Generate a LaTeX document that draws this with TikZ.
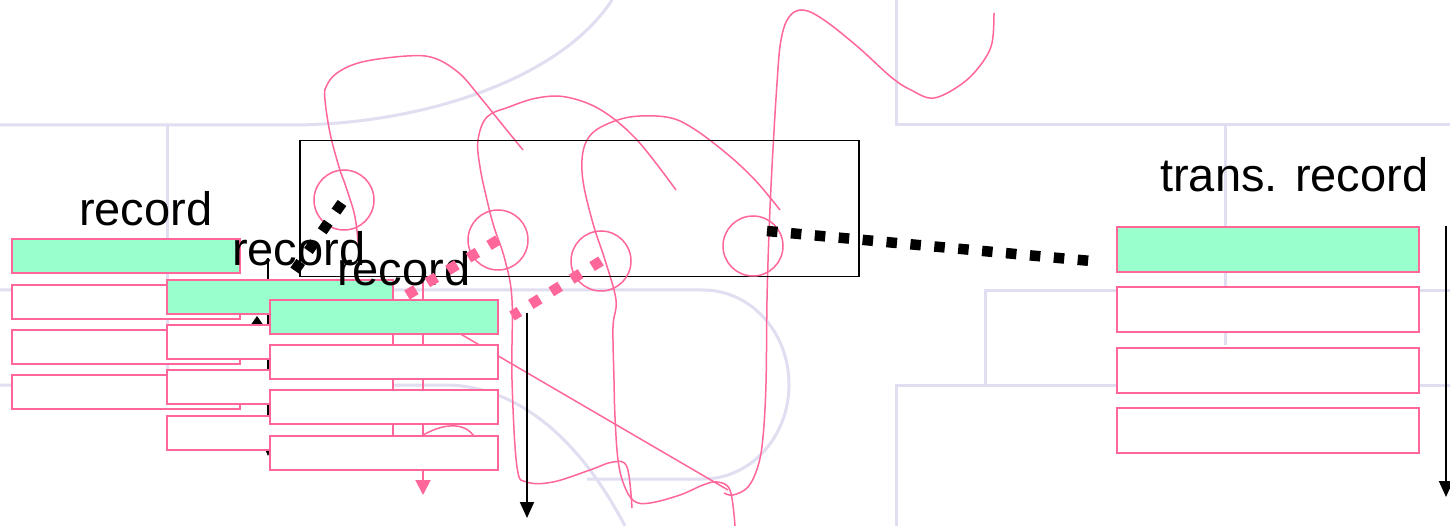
\documentclass[tikz,border=0pt]{standalone}
\usepackage{fontspec}
\setmainfont{Liberation Sans}
\usetikzlibrary{arrows.meta}
\definecolor{pinkline}{RGB}{255,102,153}
\definecolor{recgreen}{RGB}{153,255,204}
\definecolor{gridline}{RGB}{224,222,240}

\begin{document}
\begin{tikzpicture}[x=1pt,y=-1pt,
  backline/.style={draw=gridline, line width=3pt},
  scribble/.style={draw=pinkline, line width=1.5pt},
  ring/.style={circle, draw=pinkline, line width=1.5pt, minimum size=60pt, inner sep=0pt},
  window/.style={draw=black, line width=1.5pt, inner sep=0pt, anchor=north west},
  field/.style={draw=pinkline, line width=1.8pt, fill=white, inner sep=0pt,
                anchor=north west, minimum height=34pt},
  keyfield/.style={field, fill=recgreen},
  rectitle/.style={anchor=base west, inner sep=0pt, font=\fontsize{47}{56}\selectfont},
  flow/.style={draw=black, line width=2pt, -{Triangle[width=14pt,length=16pt]}},
  pinkflow/.style={draw=pinkline, line width=2pt, -{Triangle[width=15pt,length=15pt]}},
  chain/.style={line width=10.5pt, dash pattern=on 10.5pt off 13.5pt},
]
\fill[white] (0,0) rectangle (1450,526);
\useasboundingbox (0,0) rectangle (1450,526);

% ---- faint background ruling ----
\draw[backline] (0,125) -- (290,125) .. controls (420,125) and (560,80) .. (612,0);
\draw[backline] (167,125) -- (167,385);
\draw[backline] (0,290) -- (703,290)
  .. controls (750.5,290) and (789,332) .. (789,384.5)
  .. controls (789,437) and (750.5,479) .. (703,479) -- (587,479);
\draw[backline] (0,385) -- (450,385) .. controls (520,388) and (580,440) .. (625,526);
\draw[backline] (896,0) -- (896,125) -- (1450,125);
\draw[backline] (1225,125) -- (1225,345);
\draw[backline] (1450,291) -- (985,291) -- (985,385);
\draw[backline] (1450,385) -- (896,385) -- (896,526);

% ---- hand-drawn pink strokes ----
\draw[scribble] plot[smooth, tension=0.6] coordinates {
  (523,150) (501,123) (480,97) (459,73) (434,58) (407,56) (362,62) (337,73)
  (326,87) (325,100) (330,133) (339,167) (346,187) (355,217) (359,253) (359,263)};
\draw[scribble] plot[smooth, tension=0.6] coordinates {
  (676,190) (637,140) (601,110) (566,97) (537,98) (509,107) (487,117) (478,140)
  (480,167) (487,200) (494,227) (505,260) (512,300) (512,380) (517,467) (527,482)
  (553,482) (590,470) (613,462) (627,467) (632,508)};
\draw[scribble] plot[smooth, tension=0.6] coordinates {
  (780,210) (755,180) (726,153) (691,127) (666,117) (630,117) (601,127) (587,140)
  (582,160) (584,187) (594,227) (605,260) (616,300) (613,327) (614,380) (615,417)
  (618,460) (624,485) (634,501) (650,503) (680,495) (703,485) (717,482) (730,490)
  (735,526)};
\draw[scribble] plot[smooth, tension=0.6] coordinates {
  (994,13) (992,43) (982,63) (963,83) (934,98) (911,90) (891,77) (858,47) (824,20)
  (803,10) (789,17) (781,40) (777,83) (772,167) (769,233) (767,300) (766,383)
  (763,437) (758,466) (748,487) (733,495) (724,493)};
\draw[scribble] (440,322) -- (728,490);
\draw[scribble] (420,437) .. controls (440,424) and (465,420) .. (475,438);

% ---- selection window and picked items ----
\node[window, minimum width=559pt, minimum height=136pt] (win) at (299,140) {};
\node[ring] (ring1) at (344,200) {};
\node[ring] (ring2) at (498,240) {};
\node[ring] (ring3) at (601,261) {};
\node[ring] (ring4) at (753,246) {};

% ---- scan direction arrows ----
\coordinate (s1a) at (268,258);  \coordinate (s1b) at (268,456);
\coordinate (s2a) at (423,282);  \coordinate (s2b) at (423,495);
\coordinate (s3a) at (527,313);  \coordinate (s3b) at (527,518);
\coordinate (s4a) at (1446,226); \coordinate (s4b) at (1446,497);
\draw[flow] (s1a) -- (s1b);
\draw[pinkflow] (s2a) -- (s2b);
\draw[flow] (s3a) -- (s3b);
\draw[flow] (s4a) -- (s4b);
% small pointer tip tucked under the second record
\fill[black] (250,326) -- (264,326) -- (257,316) -- cycle;

% ---- record one ----
\node[keyfield, minimum width=228pt] (ra1) at (11,238) {};
\node[field, minimum width=228pt] (ra2) at (11,284) {};
\node[field, minimum width=228pt] (ra3) at (11,329) {};
\node[field, minimum width=228pt] (ra4) at (11,374) {};
% ---- record two ----
\node[keyfield, minimum width=226pt] (rb1) at (166,279) {};
\node[field, minimum width=226pt] (rb2) at (166,324) {};
\node[field, minimum width=226pt] (rb3) at (166,369) {};
\node[field, minimum width=226pt] (rb4) at (166,415) {};
% ---- record three ----
\node[keyfield, minimum width=228pt] (rc1) at (269,299) {};
\node[field, minimum width=228pt] (rc2) at (269,344) {};
\node[field, minimum width=228pt] (rc3) at (269,389) {};
\node[field, minimum width=228pt] (rc4) at (269,435) {};
% ---- transformed record ----
\node[keyfield, minimum width=302pt, minimum height=45pt] (rt1) at (1116,226) {};
\node[field, minimum width=302pt, minimum height=45pt] (rt2) at (1116,286) {};
\node[field, minimum width=302pt, minimum height=45pt] (rt3) at (1116,347) {};
\node[field, minimum width=302pt, minimum height=45pt] (rt4) at (1116,407) {};

% ---- titles ----
\node[rectitle] (ta) at (79,226) {record};
\node[rectitle] (tb) at (232,266) {record};
\node[rectitle] (tc) at (337,286) {record};
\node[rectitle] (tt) at (1160,192) {trans. record};

% ---- dotted links from the picked items ----
\coordinate (k1a) at (342,203); \coordinate (k1b) at (293,273);
\coordinate (k2b) at (407,295);
\coordinate (k3b) at (512,316);
\coordinate (k4a) at (767,231); \coordinate (k4b) at (1091,261);
\draw[chain, draw=black] (k1a) -- (k1b);
\draw[chain, draw=pinkline] (ring2.center) -- (k2b);
\draw[chain, draw=pinkline] (ring3.center) -- (k3b);
\draw[chain, draw=black] (k4a) -- (k4b);
\end{tikzpicture}
\end{document}
